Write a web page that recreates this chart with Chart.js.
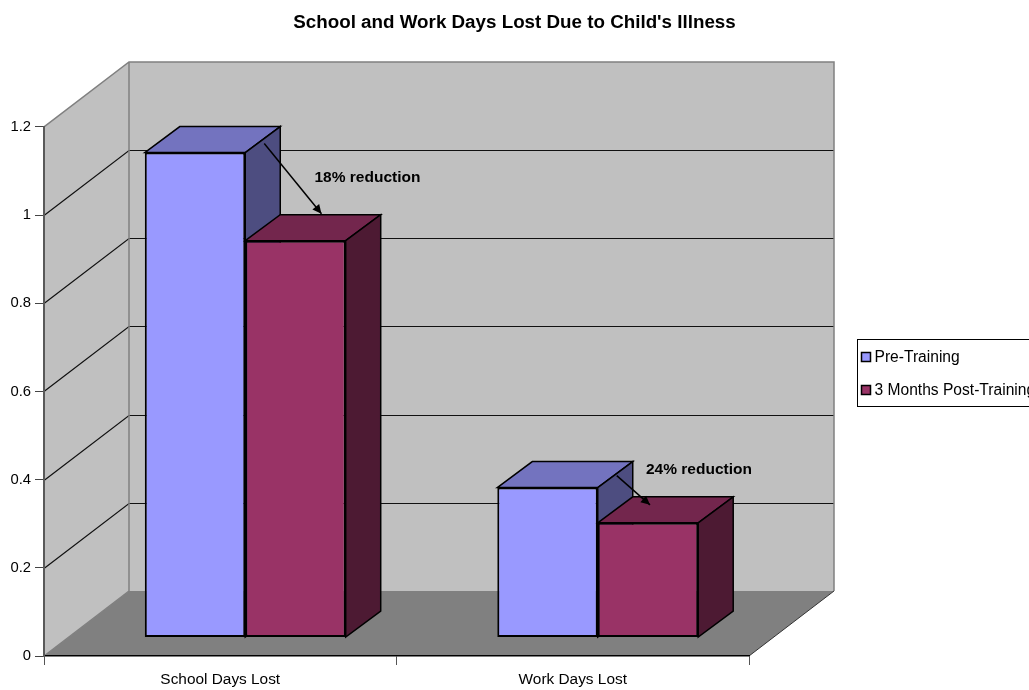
<!DOCTYPE html>
<html>
<head>
<meta charset="utf-8">
<title>School and Work Days Lost</title>
<script src="https://cdn.jsdelivr.net/npm/chart.js@4"></script>
<style>
html, body { margin: 0; padding: 0; background: #fff; overflow: hidden; }
canvas { display: block; }
</style>
</head>
<body>
<canvas id="myChart" width="1029" height="690"></canvas>
<script>
const chartTitle = "School and Work Days Lost Due to Child's Illness";
const categories = ["School Days Lost", "Work Days Lost"];
const preTraining = [1.1, 0.34];
const postTraining = [0.9, 0.26];
const reductionLabels = ["18% reduction", "24% reduction"];

const fontFamily = '"Liberation Sans", Arial, sans-serif';

// depth of the fake 3D box, and where the bars sit inside it
const wallDx = 85, wallDy = -65;
const barShiftX = 25, barShiftY = -18.5;
const barDx = 35, barDy = -26;

function poly(ctx, pts, fill, stroke, lw) {
    ctx.beginPath();
    pts.forEach((p, i) => i ? ctx.lineTo(p[0], p[1]) : ctx.moveTo(p[0], p[1]));
    ctx.closePath();
    if (fill) { ctx.fillStyle = fill; ctx.fill(); }
    if (stroke) { ctx.strokeStyle = stroke; ctx.lineWidth = lw || 1; ctx.stroke(); }
}

const box3d = {
    id: 'box3d',
    // the title centres on the whole page, not on the plot plus legend gap
    afterLayout(chart) {
        chart.titleBlock.left = 0;
        chart.titleBlock.right = chart.width;
    },
    // walls, floor and the grid lines, underneath the axes
    beforeDraw(chart) {
        const ctx = chart.ctx, a = chart.chartArea, y = chart.scales.y;
        const l = a.left, r = a.right, t = a.top, b = a.bottom;
        ctx.save();
        poly(ctx, [[l + wallDx, t + wallDy], [r + wallDx, t + wallDy], [r + wallDx, b + wallDy], [l + wallDx, b + wallDy]], '#c0c0c0');
        poly(ctx, [[l, t], [l + wallDx, t + wallDy], [l + wallDx, b + wallDy], [l, b]], '#c0c0c0');
        poly(ctx, [[l, b], [l + wallDx, b + wallDy], [r + wallDx, b + wallDy], [r, b]], '#808080');

        y.ticks.forEach(tick => {
            if (tick.value === 0 || tick.value === y.max) return;
            const py = Math.round(y.getPixelForValue(tick.value)) + 0.5;
            ctx.beginPath();
            ctx.moveTo(l, py);
            ctx.lineTo(l + wallDx, py + wallDy);
            ctx.lineTo(r + wallDx, py + wallDy);
            ctx.strokeStyle = '#111';
            ctx.lineWidth = 1.2;
            ctx.stroke();
        });

        ctx.strokeStyle = '#808080';
        ctx.lineWidth = 1.5;
        ctx.beginPath();
        ctx.moveTo(l, t);
        ctx.lineTo(l + wallDx, t + wallDy);
        ctx.lineTo(r + wallDx, t + wallDy);
        ctx.lineTo(r + wallDx, b + wallDy);
        ctx.moveTo(l + wallDx, t + wallDy);
        ctx.lineTo(l + wallDx, b + wallDy);
        ctx.moveTo(l, b);
        ctx.lineTo(l + wallDx, b + wallDy);
        ctx.stroke();

        ctx.strokeStyle = '#333';
        ctx.lineWidth = 1;
        ctx.beginPath();
        ctx.moveTo(r, b);
        ctx.lineTo(r + wallDx, b + wallDy);
        ctx.stroke();
        ctx.restore();
    },
    // Chart.js paints the last dataset first; here the first one has to go underneath,
    // so the bars are painted in this hook and the normal dataset draw is skipped
    beforeDatasetsDraw(chart) {
        const ctx = chart.ctx;
        ctx.save();
        ctx.translate(barShiftX, barShiftY);
        chart.data.datasets.forEach((ds, i) => {
            chart.getDatasetMeta(i).data.forEach(bar => {
                const p = bar.getProps(['x', 'y', 'base', 'width'], true);
                const x0 = p.x - p.width / 2, x1 = p.x + p.width / 2;
                poly(ctx, [[x0, p.y], [x0 + barDx, p.y + barDy], [x1 + barDx, p.y + barDy], [x1, p.y]], ds.topColor, '#000', 1.5);
                poly(ctx, [[x1, p.y], [x1 + barDx, p.y + barDy], [x1 + barDx, p.base + barDy], [x1, p.base]], ds.sideColor, '#000', 1.5);
                bar.draw(ctx);
            });
        });
        ctx.restore();
    },
    beforeDatasetDraw() {
        return false;
    },
    afterDatasetsDraw(chart) {
        const ctx = chart.ctx;
        const blue = chart.getDatasetMeta(0).data, red = chart.getDatasetMeta(1).data;
        // arrow and text offsets, measured from the bars they point at
        const notes = [
            { sx: 19, sy: -9, ex: 26, ey: -27, tx: 19, ty: -63 },
            { sx: 19, sy: -12, ex: 2, ey: -18, tx: -2, ty: -53 }
        ];
        ctx.save();
        notes.forEach((n, i) => {
            const b = blue[i].getProps(['x', 'y', 'width'], true);
            const m = red[i].getProps(['x', 'y', 'width'], true);
            const sx = b.x + b.width / 2 + barShiftX + n.sx, sy = b.y + barShiftY + n.sy;
            const ex = m.x + barShiftX + n.ex, ey = m.y + barShiftY + n.ey;
            ctx.strokeStyle = '#000';
            ctx.lineWidth = 1.5;
            ctx.beginPath();
            ctx.moveTo(sx, sy);
            ctx.lineTo(ex, ey);
            ctx.stroke();
            const ang = Math.atan2(ey - sy, ex - sx);
            ctx.fillStyle = '#000';
            ctx.beginPath();
            ctx.moveTo(ex, ey);
            ctx.lineTo(ex - 10 * Math.cos(ang - 0.45), ey - 10 * Math.sin(ang - 0.45));
            ctx.lineTo(ex - 10 * Math.cos(ang + 0.45), ey - 10 * Math.sin(ang + 0.45));
            ctx.closePath();
            ctx.fill();
            ctx.font = 'bold 15.5px ' + fontFamily;
            ctx.textBaseline = 'middle';
            ctx.textAlign = 'left';
            ctx.fillText(reductionLabels[i], m.x + barShiftX + n.tx, m.y + barShiftY + n.ty);
        });

        // legend, it runs off the right side of the page like the original
        const lx = 857.5, ly = 339.5;
        ctx.strokeStyle = '#000';
        ctx.lineWidth = 1;
        ctx.strokeRect(lx, ly, 200, 67);
        ctx.font = '15.6px ' + fontFamily;
        chart.data.datasets.forEach((ds, i) => {
            const rowY = ly + 13 + i * 33;
            ctx.fillStyle = ds.backgroundColor;
            ctx.lineWidth = 1.5;
            ctx.fillRect(lx + 4, rowY, 9, 9);
            ctx.strokeRect(lx + 4, rowY, 9, 9);
            ctx.fillStyle = '#000';
            ctx.fillText(ds.label, lx + 17, rowY + 5);
        });
        ctx.restore();
    }
};

const ctx = document.getElementById('myChart').getContext('2d');
const myChart = new Chart(ctx, {
    type: 'bar',
    data: {
        labels: categories,
        datasets: [{
            label: 'Pre-Training',
            data: preTraining,
            backgroundColor: '#9999ff',
            topColor: '#7373bf',
            sideColor: '#4d4d80',
            borderColor: '#000',
            borderWidth: 2,
            borderSkipped: false
        }, {
            label: '3 Months Post-Training',
            data: postTraining,
            backgroundColor: '#993366',
            topColor: '#73264d',
            sideColor: '#4d1a33',
            borderColor: '#000',
            borderWidth: 2,
            borderSkipped: false
        }]
    },
    options: {
        responsive: false,
        animation: false,
        devicePixelRatio: 1,
        categoryPercentage: 0.57,
        barPercentage: 1,
        layout: { padding: { right: 280 } },
        plugins: {
            legend: { display: false },
            tooltip: { enabled: false },
            title: {
                display: true,
                text: chartTitle,
                color: '#000',
                font: { family: fontFamily, size: 18.8, weight: 'bold' },
                padding: { top: 12, bottom: 92.4 }
            }
        },
        scales: {
            x: {
                afterFit(scale) { scale.height = 34; },
                border: { color: '#000', width: 1.5 },
                grid: { drawOnChartArea: false, tickLength: 9, color: '#555' },
                ticks: { color: '#000', padding: 6, maxRotation: 0, font: { family: fontFamily, size: 15.4 } }
            },
            y: {
                min: 0,
                max: 1.2,
                afterFit(scale) { scale.width = 44; },
                border: { color: '#595959', width: 2 },
                grid: { drawOnChartArea: false, tickLength: 9, color: '#444' },
                ticks: {
                    stepSize: 0.2,
                    color: '#000',
                    padding: 4,
                    font: { family: fontFamily, size: 14.8 },
                    callback: v => String(+v.toFixed(1))
                }
            }
        }
    },
    plugins: [box3d]
});
</script>
</body>
</html>
